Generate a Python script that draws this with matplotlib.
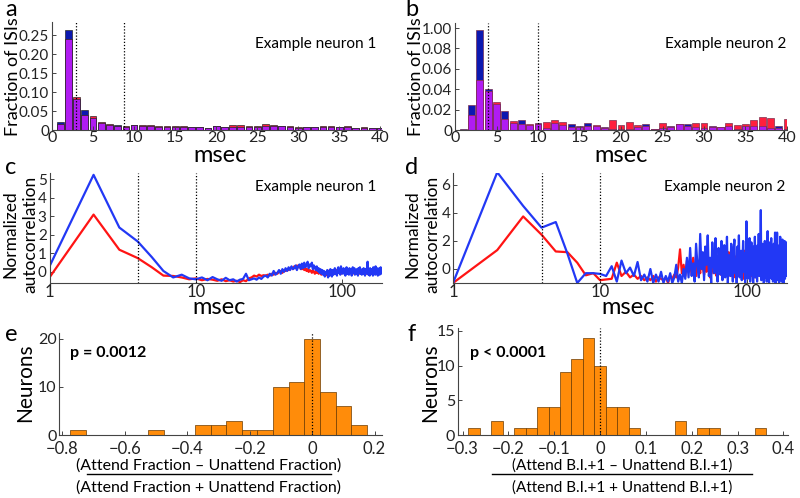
import numpy as np
import matplotlib
matplotlib.use('Agg')
import matplotlib.pyplot as plt
from matplotlib.lines import Line2D

plt.rcParams['font.family'] = ['Lato', 'DejaVu Sans']
plt.rcParams['axes.unicode_minus'] = True

W, H = 800, 498

# ---- ISI histograms (fraction of ISIs per 1 ms bin) ----
isi_bins = list(range(1, 41))
isi1_blue = [0.020, 0.265, 0.083, 0.052, 0.032, 0.018, 0.012, 0.014, 0.009, 0.012,
             0.010, 0.010, 0.009, 0.009, 0.008, 0.008, 0.009, 0.008, 0.005, 0.010,
             0.007, 0.009, 0.009, 0.009, 0.008, 0.010, 0.011, 0.010, 0.008, 0.006,
             0.008, 0.008, 0.009, 0.009, 0.008, 0.009, 0.006, 0.006, 0.006, 0.005]
isi1_red = [0.017, 0.240, 0.087, 0.040, 0.036, 0.020, 0.017, 0.010, 0.010, 0.012,
            0.012, 0.012, 0.011, 0.010, 0.010, 0.010, 0.009, 0.008, 0.006, 0.011,
            0.009, 0.012, 0.012, 0.011, 0.010, 0.016, 0.012, 0.011, 0.010, 0.007,
            0.009, 0.009, 0.010, 0.010, 0.009, 0.010, 0.006, 0.007, 0.006, 0.006]
isi2_blue = [0.0006, 0.025, 0.098, 0.040, 0.026, 0.019, 0.007, 0.010, 0.005, 0.007,
             0.002, 0.007, 0.005, 0.006, 0.004, 0.007, 0.004, 0.003, 0.001, 0.001,
             0.001, 0.003, 0.006, 0.001, 0.002, 0.004, 0.006, 0.006, 0.003, 0.002,
             0.004, 0.003, 0.004, 0.001, 0.004, 0.004, 0.004, 0.002, 0.004, 0.001]
isi2_red = [0.0004, 0.015, 0.049, 0.038, 0.027, 0.011, 0.009, 0.006, 0.006, 0.006,
            0.008, 0.010, 0.008, 0.003, 0.003, 0.004, 0.005, 0.002, 0.010, 0.005,
            0.008, 0.005, 0.004, 0.001, 0.007, 0.003, 0.006, 0.004, 0.007, 0.007,
            0.003, 0.003, 0.007, 0.005, 0.006, 0.010, 0.013, 0.012, 0.002, 0.011]
isi1_marks = [2.95, 8.8]
isi2_marks = [4, 10]

# ---- autocorrelations, lag 1..186 ms ----
lags = list(range(1, 187))
ac1_blue = [0.30, 5.25, 2.40, 1.65, 0.80, 0.05, -0.30, -0.15, -0.35, -0.40,
            -0.30, -0.45, -0.28, -0.40, -0.48, -0.32, -0.45, -0.40, -0.52, -0.42,
            -0.38, -0.10, -0.45, -0.40, -0.35, -0.42, -0.30, -0.38, -0.25, -0.20,
            -0.30, -0.10, -0.20, 0.05, -0.15, -0.05, 0.10, -0.10, 0.15, 0.00,
            0.20, 0.05, 0.25, 0.10, 0.30, 0.15, 0.20, 0.35, 0.10, 0.30,
            0.40, 0.15, 0.45, 0.20, 0.50, 0.25, 0.35, 0.55, 0.20, 0.40,
            0.30, 0.50, 0.15, 0.35, 0.25, 0.10, 0.30, 0.05, 0.20, -0.05,
            0.15, -0.10, 0.10, -0.15, 0.05, -0.25, 0.00, -0.10, 0.10, -0.30,
            0.05, -0.20, 0.15, -0.05, -0.25, 0.10, -0.15, 0.00, 0.20, -0.10,
            0.05, -0.20, 0.15, 0.25, -0.05, 0.10, -0.15, 0.30, 0.00, 0.15,
            -0.10, 0.20, -0.05, 0.10, -0.20, 0.05, 0.25, -0.10, 0.15, 0.00,
            -0.15, 0.20, 0.05, -0.05, 0.15, -0.20, 0.10, 0.25, -0.05, 0.00,
            0.20, -0.15, 0.10, 0.00, -0.10, 0.15, 0.05, -0.20, 0.20, 0.00,
            -0.05, 0.25, -0.10, 0.10, 0.00, -0.15, 0.15, 0.05, -0.10, 0.20,
            0.00, 0.10, -0.20, 0.15, 0.05, -0.05, 0.20, -0.10, 0.55, 0.00,
            -0.15, 0.10, 0.05, -0.20, 0.20, 0.00, -0.05, 0.15, -0.10, 0.05,
            0.10, -0.20, 0.25, 0.00, -0.10, 0.15, 0.05, -0.15, 0.30, -0.05,
            0.10, -0.10, 0.20, 0.00, -0.20, 0.15, 0.05, -0.05, 0.20, -0.15,
            0.10, 0.00, 0.25, -0.10, 0.15, 0.00]
ac1_red = [-0.30, 3.10, 1.20, 0.75, 0.25, -0.20, -0.22, -0.30, -0.40, -0.35,
           -0.45, -0.38, -0.42, -0.48, -0.40, -0.50, -0.45, -0.52, -0.48, -0.55,
           -0.45, -0.50, -0.35, -0.30, -0.20, -0.25, -0.15, -0.22, -0.18, -0.20,
           -0.15, -0.20, -0.10, -0.15, -0.05, -0.10, 0.00, 0.05, -0.05, 0.10,
           0.05, 0.15, 0.10, 0.20, 0.25, 0.15, 0.30, 0.20, 0.35, 0.25,
           0.30, 0.20, 0.15, 0.30, 0.10, 0.20, 0.05, 0.15, 0.00, 0.10,
           0.05, -0.05, 0.10, 0.00, -0.10, 0.05, -0.05, 0.00, -0.10, -0.05,
           0.00, -0.15, -0.05, 0.05, -0.10, 0.00, -0.20, -0.05, 0.05, -0.10,
           0.00, 0.10, -0.05, 0.05, -0.15, 0.00, 0.10, -0.05, 0.05, 0.00,
           0.10, -0.10, 0.05, 0.00, 0.15, -0.05, 0.05, -0.10, 0.10, 0.00,
           0.05, -0.05, 0.10, 0.00, -0.10, 0.05, 0.10, -0.05, 0.00, 0.05,
           -0.10, 0.05, 0.00, 0.10, -0.05, 0.05, 0.00, -0.10, 0.05, 0.10,
           0.00, -0.05, 0.05, 0.10, -0.10, 0.00, 0.05, -0.05, 0.10, 0.00,
           0.05, -0.10, 0.00, 0.05, 0.10, -0.05, 0.00, 0.05, -0.10, 0.05,
           0.10, 0.00, -0.05, 0.05, 0.00, 0.10, -0.10, 0.05, 0.00, 0.05,
           -0.05, 0.00, 0.10, 0.05, -0.10, 0.00, 0.05, 0.10, -0.05, 0.00,
           0.05, -0.05, 0.10, 0.00, 0.05, -0.10, 0.00, 0.05, 0.10, -0.05,
           0.00, 0.05, -0.05, 0.10, 0.00, 0.05, -0.10, 0.05, 0.00, 0.10,
           -0.05, 0.05, 0.00, 0.10, -0.05, 0.05]
ac2_blue = [-1.0, 6.9, 4.5, 2.95, 3.35, 1.1, -1.0, -0.3, -0.3, -0.35,
            -0.5, 0.2, -0.9, 0.6, -0.3, 0.1, -0.5, 0.5, -0.8, -0.4,
            -0.9, 0.0, -1.0, -0.4, -0.9, -0.2, -1.0, -0.5, -0.9, -0.3,
            -1.0, -0.6, 0.3, -0.9, -0.4, -1.0, 0.0, -0.7, 0.8, -0.6,
            1.5, -0.5, 0.4, -0.9, 1.8, 0.2, -0.6, 2.5, 0.0, 1.2,
            -0.8, 1.6, 0.3, 2.4, -0.5, 0.8, -1.0, 1.9, 0.4, -0.3,
            2.2, 0.1, -0.9, 1.5, 0.6, -0.4, 2.0, -0.8, 0.9, 1.7,
            -0.6, 0.3, 2.3, -1.0, 1.0, 0.2, -0.5, 1.8, 0.5, -0.9,
            1.4, 2.1, -0.3, 0.7, -1.0, 1.6, 0.0, 2.4, -0.6, 0.9,
            1.3, -0.8, 0.4, 2.0, -0.2, 1.1, -1.0, 0.6, 3.4, 0.2,
            -0.7, 1.5, 0.3, 2.2, -0.9, 0.8, 1.9, -0.4, 0.5, -1.0,
            1.6, 0.0, 2.3, -0.6, 1.0, 0.4, -0.9, 1.7, 0.2, 2.5,
            -0.5, 0.9, 1.4, 4.2, -0.8, 0.6, 1.8, -0.3, 1.1, -1.0,
            0.7, 2.0, -0.6, 0.3, 1.5, -0.9, 0.8, 2.7, -0.2, 1.2,
            -1.0, 0.5, 1.9, -0.4, 0.9, 2.2, -0.7, 0.3, 1.4, -0.9,
            0.6, 1.8, -0.3, 1.0, 2.6, -1.0, 0.4, 1.6, -0.5, 2.6,
            0.1, -0.8, 1.3, 0.5, -1.0, 1.7, 0.2, 2.3, -0.6, 0.8,
            1.5, -0.9, 0.6, 2.1, -0.4, 1.0, -1.0, 1.8, 0.3, 2.0,
            -0.7, 0.9, 1.6, -0.5, 1.9, 0.0]
ac2_red = [-1.0, 1.35, 3.75, 2.45, 1.25, 1.2, 0.45, -0.45, -0.3, -0.8,
           -0.75, -0.7, 0.45, -0.5, -0.2, -0.6, -0.4, -0.7, -0.5, -0.8,
           -0.6, -0.8, -0.5, -0.9, -0.6, -0.7, -0.8, -0.6, -1.0, -0.5,
           -0.7, -0.4, -0.6, 0.1, 1.4, -0.3, 0.3, -0.5, 0.6, -0.2,
           0.4, -0.4, 0.8, 0.0, -0.5, 0.6, 0.2, -0.3, 1.0, 0.1,
           -0.4, 0.5, -0.2, 0.9, 0.0, -0.6, 0.7, 0.2, -0.3, 0.4,
           1.1, -0.5, 0.3, 0.0, 0.8, -0.4, 0.2, 0.6, -0.6, 0.1,
           0.9, -0.3, 0.4, -0.1, 1.2, 0.0, -0.5, 0.5, 0.2, -0.4,
           0.7, 0.1, -0.6, 0.9, 0.3, -0.2, 1.0, -0.5, 0.4, 0.0,
           -0.4, 0.8, 0.2, -0.7, 0.5, 1.3, -0.3, 0.3, 0.0, 0.7,
           -0.6, 0.4, 0.9, -0.2, 0.1, 0.6, -0.5, 1.1, 0.2, -0.3,
           0.5, 0.0, -0.6, 0.8, 0.3, -0.4, 1.0, 0.1, -0.2, 0.6,
           0.2, -0.5, 0.9, 0.0, 0.4, -0.7, 0.7, 0.2, -0.3, 1.2,
           0.0, 0.5, -0.4, 0.8, 0.1, -0.6, 0.6, 0.3, -0.2, 0.9,
           -0.5, 0.4, 0.0, 0.7, -0.3, 1.0, 0.2, -0.6, 0.5, 0.1,
           -0.2, 0.8, 0.3, -0.5, 0.6, 0.0, 1.1, -0.4, 0.2, 0.7,
           -0.3, 0.4, 0.9, -0.6, 0.1, 0.5, -0.2, 0.8, 0.0, -0.5,
           0.6, 0.2, -0.4, 0.9, 0.1, -0.3, 0.7, 0.0, 0.4, -0.6,
           0.3, 0.8, -0.2, 0.5, 0.0, 0.9]
ac_marks = [4, 10]

# ---- population histograms ----
frac_centers = [-0.75, -0.5, -0.35, -0.3, -0.25, -0.2, -0.15,
                -0.1, -0.05, 0.0, 0.05, 0.1, 0.15]
frac_counts = [1, 1, 2, 2, 3, 1, 1, 10, 11, 20, 9, 6, 2]
frac_width = 0.05
bi_centers = [-0.275, -0.225, -0.175, -0.15, -0.125, -0.1, -0.075, -0.05, -0.025,
              0.0, 0.025, 0.05, 0.075, 0.175, 0.225, 0.25, 0.35]
bi_counts = [1, 2, 1, 1, 4, 4, 9, 11, 14, 10, 4, 4, 1, 2, 1, 1, 1]
bi_width = 0.025

C_BLUE_BAR = '#0c18b0'
C_RED_BAR = '#ff1f3d'
C_MAG_BAR = '#b01cf2'
C_BLUE = '#2238f5'
C_RED = '#ff1414'
C_ORANGE = '#ff8c0a'
LABEL_FS = 13

fig = plt.figure(figsize=(W / 100, H / 100), dpi=100)


def px_axes(left, top, right, bottom):
    return fig.add_axes([left / W, 1 - bottom / H, (right - left) / W, (bottom - top) / H])


def ftext(x, y, s, **kw):
    kw.setdefault('ha', 'center')
    kw.setdefault('va', 'center')
    fig.text(x / W, 1 - y / H, s, **kw)


def style(ax, xfs=12, yfs=11, xpad=1):
    for side in ('top', 'right'):
        ax.spines[side].set_visible(False)
    for side in ('left', 'bottom'):
        ax.spines[side].set_color('#444444')
        ax.spines[side].set_linewidth(0.8)
    ax.tick_params(direction='in', length=3, width=0.7, color='#444444',
                   labelcolor='#222222', pad=2)
    ax.tick_params(axis='x', labelsize=xfs, pad=xpad)
    ax.tick_params(axis='y', labelsize=yfs)
    ax.minorticks_off()


def isi_panel(ax, blue, red, marks, edge):
    b = np.array(blue)
    r = np.array(red)
    kw = dict(width=0.82, edgecolor=edge, linewidth=0.5)
    ax.bar(isi_bins, b, color=C_BLUE_BAR, **kw)
    ax.bar(isi_bins, r, color=C_RED_BAR, **kw)
    ax.bar(isi_bins, np.minimum(b, r), color=C_MAG_BAR, **kw)
    for m in marks:
        ax.axvline(m, color='k', ls=(0, (1, 1.5)), lw=0.9)
    ax.set_xticks(range(0, 41, 5))
    style(ax, xfs=11.5, yfs=11)


def ac_panel(ax, blue, red, marks):
    ax.plot(lags, red, color=C_RED, lw=1.6)
    ax.plot(lags, blue, color=C_BLUE, lw=1.6)
    for m in marks:
        ax.axvline(m, color='k', ls=(0, (1, 1.5)), lw=0.9)
    ax.set_xscale('log')
    ax.set_xlim(1, 186)
    ax.set_xticks([1, 10, 100])
    ax.set_xticklabels(['1', '10', '100'])
    style(ax, xfs=12, yfs=11)


def pop_panel(ax, centers, counts, width):
    ax.bar(centers, counts, width=width, color=C_ORANGE, edgecolor='#6a3a00', linewidth=0.5)
    ax.axvline(0, color='k', ls=(0, (1, 1.5)), lw=0.9)
    style(ax, xfs=12, yfs=11.5, xpad=4)


# a
ax = px_axes(52, 22, 382, 130)
isi_panel(ax, isi1_blue, isi1_red, isi1_marks, '#2a2a2a')
ax.set_xlim(0, 40.2)
ax.set_ylim(0, 0.285)
ax.set_yticks([0, 0.05, 0.10, 0.15, 0.20, 0.25])
ax.set_yticklabels(['0', '0.05', '0.10', '0.15', '0.20', '0.25'])
ax.text(0.80, 0.8, 'Example neuron 1', transform=ax.transAxes, ha='center', va='center', fontsize=11)

# b
ax = px_axes(455, 23, 787, 130)
isi_panel(ax, isi2_blue, isi2_red, isi2_marks, '#7a3050')
ax.set_xlim(0, 40)
ax.set_ylim(0, 0.105)
ax.set_yticks([0, 0.02, 0.04, 0.06, 0.08, 0.10])
ax.set_yticklabels(['0', '0.02', '0.04', '0.06', '0.08', '1.00'])
ax.text(0.815, 0.8, 'Example neuron 2', transform=ax.transAxes, ha='center', va='center', fontsize=11)

# c
ax = px_axes(49.5, 173, 381.7, 283)
ac_panel(ax, ac1_blue, ac1_red, ac_marks)
ax.set_ylim(-0.6, 5.35)
ax.set_yticks(range(0, 6))
ax.text(0.80, 0.87, 'Example neuron 1', transform=ax.transAxes, ha='center', va='center', fontsize=11)

# d
ax = px_axes(453, 173, 786.7, 283)
ac_panel(ax, ac2_blue, ac2_red, ac_marks)
ax.set_ylim(-1, 6.85)
ax.set_yticks([0, 2, 4, 6])
ax.text(0.815, 0.87, 'Example neuron 2', transform=ax.transAxes, ha='center', va='center', fontsize=11)

# e
ax = px_axes(59.3, 333, 381.7, 435)
pop_panel(ax, frac_centers, frac_counts, frac_width)
ax.set_xlim(-0.81, 0.223)
ax.set_ylim(0, 21.2)
ax.set_yticks([0, 10, 20])
ax.set_xticks([-0.8, -0.6, -0.4, -0.2, 0, 0.2])
ax.set_xticklabels(['\u22120.8', '\u22120.6', '\u22120.4', '\u22120.2', '0', '0.2'])
ax.text(0.033, 0.80, 'p = 0.0012', transform=ax.transAxes, ha='left', va='center',
        fontsize=11.5, fontweight='bold')

# f
ax = px_axes(458, 328, 788, 435)
pop_panel(ax, bi_centers, bi_counts, bi_width)
ax.set_xlim(-0.31, 0.41)
ax.set_ylim(0, 15.4)
ax.set_yticks([0, 5, 10, 15])
ax.set_xticks([-0.3, -0.2, -0.1, 0, 0.1, 0.2, 0.3, 0.4])
ax.set_xticklabels(['\u22120.3', '\u22120.2', '\u22120.1', '0', '0.1', '0.2', '0.3', '0.4'])
ax.text(0.036, 0.766, 'p < 0.0001', transform=ax.transAxes, ha='left', va='center',
        fontsize=11.5, fontweight='bold')

# panel letters
for letter, x, y in [('a', 11, 10), ('b', 412, 10), ('c', 11, 168), ('d', 412, 168),
                     ('e', 11, 334), ('f', 412, 334)]:
    ftext(x, y, letter, fontsize=17)

# axis labels
ftext(13, 77, 'Fraction of ISIs', rotation=90, fontsize=LABEL_FS)
ftext(416, 77, 'Fraction of ISIs', rotation=90, fontsize=LABEL_FS)
ftext(220, 156, 'msec', fontsize=17)
ftext(621, 156, 'msec', fontsize=17)
for x0 in (10, 412):
    ftext(x0, 234, 'Normalized', rotation=90, fontsize=12.5)
    ftext(x0 + 20, 234, 'autocorrelation', rotation=90, fontsize=12.5)
ftext(219, 307, 'msec', fontsize=17)
ftext(628, 307, 'msec', fontsize=17)
ftext(25, 383, 'Neurons', rotation=90, fontsize=15)
ftext(430, 383, 'Neurons', rotation=90, fontsize=15)

# fraction labels
ftext(209, 466, '(Attend Fraction \u2013 Unattend Fraction)', fontsize=11.5)
ftext(209, 488, '(Attend Fraction + Unattend Fraction)', fontsize=11.5)
fig.add_artist(Line2D([87 / W, 331 / W], [1 - 474 / H, 1 - 474 / H], color='k', lw=1))
ftext(622, 466, '(Attend B.I.+1 \u2013 Unattend B.I.+1)', fontsize=11)
ftext(622, 488, '(Attend B.I.+1 + Unattend B.I.+1)', fontsize=11)
fig.add_artist(Line2D([492 / W, 752 / W], [1 - 474 / H, 1 - 474 / H], color='k', lw=1))

fig.savefig('out.png', dpi=100)
